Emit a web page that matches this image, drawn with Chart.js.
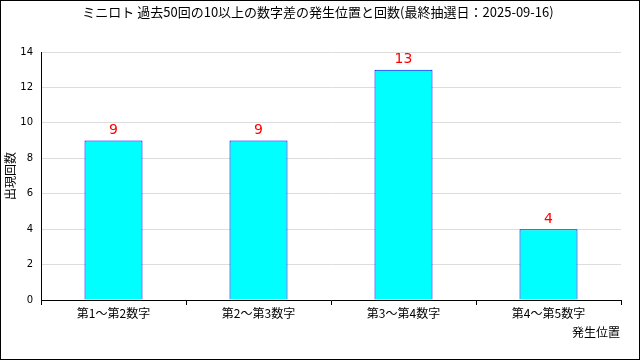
<!DOCTYPE html>
<html>
<head>
<meta charset="utf-8">
<script src="https://cdn.jsdelivr.net/npm/chart.js@4"></script>
<style>
  body { margin: 0; background: #fff; }
  #wrap { width: 640px; height: 360px; }
</style>
</head>
<body>
<div id="wrap"><canvas id="chart" width="640" height="360"></canvas></div>
<script>
// chart data
const categories = ["第1～第2数字", "第2～第3数字", "第3～第4数字", "第4～第5数字"];
const counts = [9, 9, 13, 4];
const titleText = "ミニロト 過去50回の10以上の数字差の発生位置と回数(最終抽選日：2025-09-16)";
const yTitle = "出現回数";
const xTitle = "発生位置";

const jpFont = "'Noto Sans CJK JP', sans-serif";

// frame, title, axis titles and value labels
const decorations = {
  id: "decorations",
  afterDraw(chart) {
    const ctx = chart.ctx;
    ctx.save();
    ctx.strokeStyle = "#000";
    ctx.lineWidth = 1;
    ctx.strokeRect(0.5, 0.5, 639, 359);

    ctx.fillStyle = "#000";
    ctx.font = "13px " + jpFont;
    ctx.textAlign = "center";
    ctx.textBaseline = "middle";
    ctx.fillText(titleText, 318, 12);

    ctx.font = "12px " + jpFont;
    ctx.textAlign = "right";
    ctx.fillText(xTitle, 620, 332);

    ctx.translate(10, 176);
    ctx.rotate(-Math.PI / 2);
    ctx.textAlign = "center";
    ctx.fillText(yTitle, 0, 0);
    ctx.restore();

    // red count above each bar
    const meta = chart.getDatasetMeta(0);
    ctx.save();
    ctx.fillStyle = "#ff0000";
    ctx.font = "14px 'DejaVu Sans', sans-serif";
    ctx.textAlign = "center";
    ctx.textBaseline = "bottom";
    meta.data.forEach((bar, i) => {
      ctx.fillText(String(counts[i]), bar.x, bar.y - 3);
    });
    ctx.restore();
  }
};

new Chart(document.getElementById("chart"), {
  type: "bar",
  data: {
    labels: categories,
    datasets: [{
      data: counts,
      backgroundColor: "#00ffff",
      borderColor: "#0000ff",
      borderWidth: 1,
      inflateAmount: 0,
      barPercentage: 0.4,
      categoryPercentage: 1
    }]
  },
  options: {
    responsive: false,
    animation: false,
    layout: { padding: { top: 52, right: 19, left: 0, bottom: 0 } },
    plugins: {
      legend: { display: false },
      tooltip: { enabled: false }
    },
    scales: {
      x: {
        afterFit: (scale) => { scale.height = 60; },
        grid: {
          offset: true,
          drawOnChartArea: false,
          color: "#000",
          tickLength: 5
        },
        border: { color: "#000" },
        ticks: {
          color: "#000",
          font: { family: jpFont, size: 12 },
          padding: 1
        }
      },
      y: {
        min: 0,
        max: 14,
        afterFit: (scale) => { scale.width = 41; },
        grid: { color: "#dddddd", tickLength: 0 },
        border: { color: "#000" },
        ticks: {
          stepSize: 2,
          color: "#000",
          font: { family: "'DejaVu Sans', sans-serif", size: 10 },
          padding: 8
        }
      }
    }
  },
  plugins: [decorations]
});
</script>
</body>
</html>
